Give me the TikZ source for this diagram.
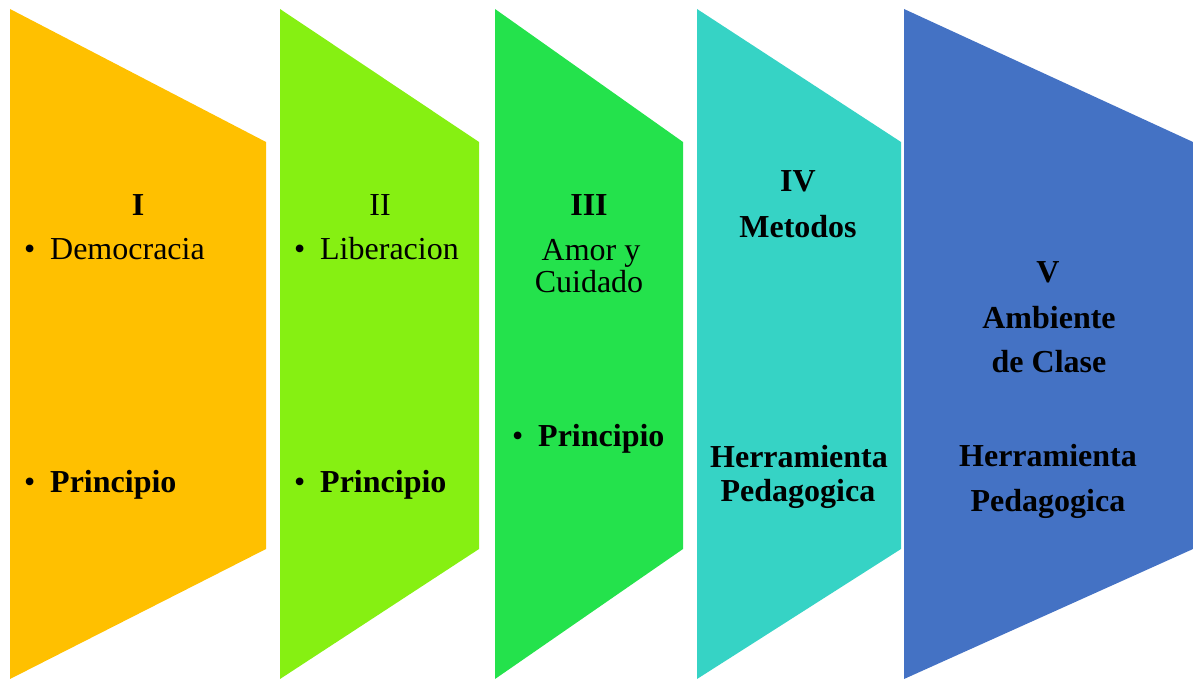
\documentclass[tikz,border=0pt]{standalone}
\usepackage{fontspec}
\setmainfont{Liberation Serif}
\usepackage{tikz}

\definecolor{cOrange}{HTML}{FFC000}
\definecolor{cLime}{HTML}{86F012}
\definecolor{cGreen}{HTML}{24E24C}
\definecolor{cTeal}{HTML}{36D3C5}
\definecolor{cBlue}{HTML}{4472C4}

\begin{document}
\begin{tikzpicture}[x=1pt,y=-1pt]
					\tikzstyle{txt}=[inner sep=0pt,anchor=base,font=\fontsize{32}{38}\selectfont]
					\tikzstyle{txtb}=[txt,font=\fontsize{32}{38}\selectfont\bfseries]
					\tikzstyle{item}=[txt,anchor=base west]
					\tikzstyle{itemb}=[txtb,anchor=base west]
					\useasboundingbox (0,0) rectangle (1193,679);
					% the five panels
					\fill[cOrange] (10,9) -- (266,142) -- (266,549) -- (10,679) -- cycle;
					\fill[cLime] (280,9) -- (479,142) -- (479,549) -- (280,679) -- cycle;
					\fill[cGreen] (495,9) -- (683,142) -- (683,549) -- (495,679) -- cycle;
					\fill[cTeal] (697,9) -- (901,142) -- (901,549) -- (697,679) -- cycle;
					\fill[cBlue] (904,9) -- (1193,142) -- (1193,549) -- (904,679) -- cycle;
					% I
					\node[txtb] (n1) at (138,215) {I};
					\node[item] (d1) at (24,259) {\makebox[26pt][l]{•}Democracia};
					\node[itemb] (p1) at (24,492) {\makebox[26pt][l]{\mdseries•}Principio};
					% II
					\node[txt] (n2) at (380,215) {II};
					\node[item] (l2) at (294,259) {\makebox[26pt][l]{•}Liberacion};
					\node[itemb] (p2) at (294,492) {\makebox[26pt][l]{\mdseries•}Principio};
					% III
					\node[txtb] (n3) at (589,215) {III};
					\node[txt] (a3) at (591,260) {Amor y};
					\node[txt] (c3) at (589,292) {Cuidado};
					\node[itemb] (p3) at (512,446) {\makebox[26pt][l]{\mdseries•}Principio};
					% IV
					\node[txtb] (n4) at (798,191) {IV};
					\node[txtb] (m4) at (798,237) {Metodos};
					\node[txtb] (h4) at (799,467) {Herramienta};
					\node[txtb] (g4) at (798,501) {Pedagogica};
					% V
					\node[txtb] (n5) at (1048,282) {V};
					\node[txtb] (a5) at (1049,328) {Ambiente};
					\node[txtb] (c5) at (1049,372) {de Clase};
					\node[txtb] (h5) at (1048,466) {Herramienta};
					\node[txtb] (g5) at (1048,511) {Pedagogica};
					\end{tikzpicture}
\end{document}
